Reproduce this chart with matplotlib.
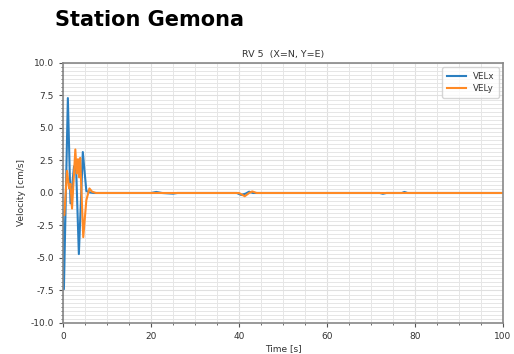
import matplotlib
matplotlib.use("Agg")
import matplotlib.pyplot as plt
from matplotlib.ticker import MultipleLocator, FormatStrFormatter

# Velocity record, station Gemona, receiver RV 5
time_x = [0.0, 0.2, 1.1, 1.7, 2.5, 3.0, 3.6, 4.5, 5.3, 6.0, 7.0, 20.0, 21.2, 22.5, 25.0, 26.0,
          39.5, 40.5, 41.5, 42.3, 43.2, 44.5, 60.0, 72.0, 72.7, 73.5, 77.0, 77.6, 78.3, 100.0]
vel_x = [-1.5, -7.4, 7.3, -0.8, 2.05, 1.7, -4.7, 3.15, 0.15, 0.05, 0.0, 0.0, 0.08, 0.0, -0.05, 0.0,
         0.0, -0.15, -0.05, 0.1, 0.0, 0.0, 0.0, 0.0, -0.06, 0.0, 0.0, 0.08, 0.0, 0.0]

time_y = [0.0, 0.3, 0.9, 1.4, 1.7, 2.05, 2.8, 3.1, 3.4, 3.65, 3.9, 4.6, 5.3, 6.0, 6.6, 7.5,
          20.0, 40.0, 41.3, 42.3, 43.0, 44.0, 60.0, 100.0]
vel_y = [-1.6, -1.7, 1.7, 0.35, 0.7, -1.2, 3.35, 1.5, 2.6, 1.2, 2.7, -3.4, -0.56, 0.35, 0.1, 0.0,
         0.0, 0.0, -0.25, 0.0, 0.12, 0.0, 0.0, 0.0]

fig = plt.figure(figsize=(5.14, 3.54), dpi=100)
ax = fig.add_axes([0.1226, 0.0876, 0.856, 0.7345])

ax.plot(time_x, vel_x, color="#2b7fc0", lw=1.5, label="VELx")
ax.plot(time_y, vel_y, color="#ff8a25", lw=1.5, label="VELy")

ax.set_xlim(0, 100)
ax.set_ylim(-10, 10)
ax.xaxis.set_major_locator(MultipleLocator(20))
ax.xaxis.set_minor_locator(MultipleLocator(5))
ax.yaxis.set_major_locator(MultipleLocator(2.5))
ax.yaxis.set_minor_locator(MultipleLocator(2.5 / 8))
ax.grid(which="major", color="#e0e0e0", lw=0.8)
ax.grid(which="minor", color="#e6e6e6", lw=0.7)
ax.set_axisbelow(True)

for s in ax.spines.values():
    s.set_color("#888888")
    s.set_linewidth(1.2)
ax.tick_params(which="both", colors="#555555", labelsize=6.5, labelcolor="#333333")
ax.tick_params(which="major", length=3)
ax.tick_params(which="minor", length=1.5)
ax.yaxis.set_major_formatter(FormatStrFormatter("%.1f"))

ax.set_xlabel("Time [s]", fontsize=6.5, color="#333333", labelpad=2)
ax.set_ylabel("Velocity [cm/s]", fontsize=6.5, color="#333333", labelpad=3)
ax.set_title("RV 5  (X=N, Y=E)", fontsize=6.8, color="#333333", pad=4)

leg = ax.legend(loc="upper right", fontsize=6.3, frameon=True, handlelength=2.2,
                borderpad=0.5, labelspacing=0.4)
for t in leg.get_texts():
    t.set_color("#333333")

fig.text(0.107, 0.927, "Station Gemona", fontsize=15, fontweight="bold", ha="left", va="baseline")

fig.savefig("out.png", dpi=100, facecolor="white")
